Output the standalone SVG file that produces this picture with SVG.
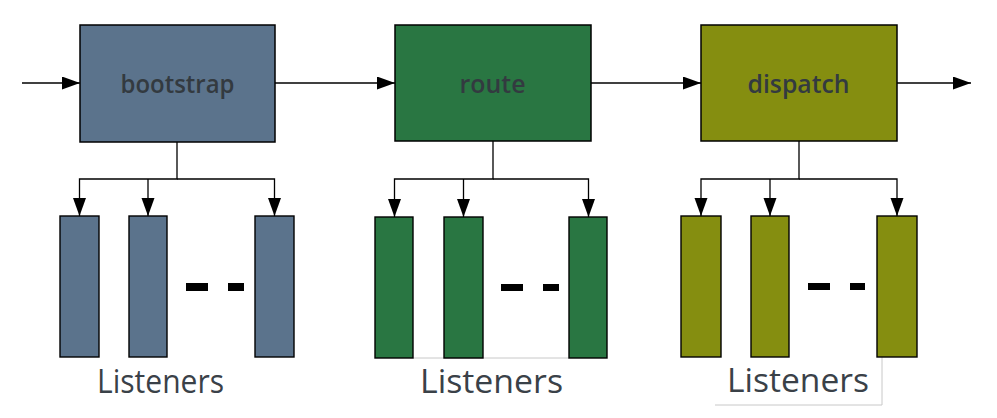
<svg xmlns="http://www.w3.org/2000/svg" width="997" height="418" viewBox="0 0 997 418">
<style>
.stage{stroke:#000;stroke-width:1.5}
.lst{stroke:#000;stroke-width:1.4}
.blue{fill:#5b738c}
.green{fill:#297642}
.olive{fill:#858e10}
.title{font-family:"Open Sans","DejaVu Sans",sans-serif;font-weight:600;font-size:26px;fill:#333a40;text-anchor:middle}
.lbl{font-family:"Open Sans","DejaVu Sans",sans-serif;font-size:32px;fill:#3a4148}
.conn{fill:none;stroke:#000;stroke-width:1.3}
.dash{fill:#000}
.frame{fill:none;stroke:#c8c8c8;stroke-width:1}
</style>
<defs>
<marker id="ah" markerUnits="userSpaceOnUse" markerWidth="18" markerHeight="14" refX="18" refY="6.5" orient="auto">
<path d="M0,0 L18,6.5 L0,13 z" fill="#000"/>
</marker>
</defs>
<rect width="997" height="418" fill="#fff"/>
<g id="artifacts">
<line class="frame" x1="413" y1="358" x2="569" y2="358"/>
<line class="frame" x1="882" y1="357" x2="882" y2="405"/>
<line class="frame" x1="715" y1="405" x2="882" y2="405"/>
</g>
<g id="connectors">
<line class="conn" x1="22" y1="83" x2="80" y2="83" marker-end="url(#ah)"/>
<line class="conn" x1="275" y1="83" x2="395" y2="83" marker-end="url(#ah)"/>
<line class="conn" x1="591" y1="83" x2="701" y2="83" marker-end="url(#ah)"/>
<line class="conn" x1="897" y1="83" x2="971" y2="83" marker-end="url(#ah)"/>
<path class="conn" d="M177,142 V179 H79.5 V216"/>
<path class="conn" d="M177,179 H274.5 V216"/>
<path class="conn" d="M148,179 V216"/>
<path class="conn" d="M493,141 V179 H394.5 V217"/>
<path class="conn" d="M493,179 H588.5 V217"/>
<path class="conn" d="M463.5,179 V217"/>
<path class="conn" d="M799,141 V179 H701 V216"/>
<path class="conn" d="M799,179 H897 V216"/>
<path class="conn" d="M770,179 V216"/>
<g fill="#000">
<path d="M73,198 L86,198 L79.5,216 z"/>
<path d="M141.5,198 L154.5,198 L148,216 z"/>
<path d="M268,198 L281,198 L274.5,216 z"/>
<path d="M388,199 L401,199 L394.5,217 z"/>
<path d="M457,199 L470,199 L463.5,217 z"/>
<path d="M582,199 L595,199 L588.5,217 z"/>
<path d="M694.5,198 L707.5,198 L701,216 z"/>
<path d="M763.5,198 L776.5,198 L770,216 z"/>
<path d="M890.5,198 L903.5,198 L897,216 z"/>
</g>
</g>
<g id="bootstrap">
<rect class="stage blue" x="80" y="25" width="195" height="117"/>
<text class="title" x="177.5" y="93" textLength="114" lengthAdjust="spacingAndGlyphs">bootstrap</text>
</g>
<g id="route">
<rect class="stage green" x="395" y="25" width="196" height="116"/>
<text class="title" x="492.5" y="93" textLength="66" lengthAdjust="spacingAndGlyphs">route</text>
</g>
<g id="dispatch">
<rect class="stage olive" x="701" y="25" width="196" height="116"/>
<text class="title" x="798.5" y="93" textLength="102" lengthAdjust="spacingAndGlyphs">dispatch</text>
</g>
<g id="bootstrap-listeners">
<rect class="lst blue" x="60" y="216" width="39" height="141"/>
<rect class="lst blue" x="129" y="216" width="38" height="141"/>
<rect class="lst blue" x="255" y="216" width="39" height="141"/>
<rect class="dash" x="186" y="283" width="22" height="8"/>
<rect class="dash" x="228" y="283" width="16" height="8"/>
<text class="lbl" x="97" y="393" textLength="127" lengthAdjust="spacingAndGlyphs">Listeners</text>
</g>
<g id="route-listeners">
<rect class="lst green" x="375" y="217" width="38" height="141"/>
<rect class="lst green" x="444" y="217" width="39" height="141"/>
<rect class="lst green" x="569" y="217" width="38" height="141"/>
<rect class="dash" x="501" y="284" width="22" height="7"/>
<rect class="dash" x="543" y="284" width="16" height="7"/>
<text class="lbl" x="420" y="393" textLength="143" lengthAdjust="spacingAndGlyphs">Listeners</text>
</g>
<g id="dispatch-listeners">
<rect class="lst olive" x="681" y="216" width="40" height="141"/>
<rect class="lst olive" x="751" y="216" width="38" height="141"/>
<rect class="lst olive" x="877" y="216" width="40" height="141"/>
<rect class="dash" x="808" y="283" width="22" height="7"/>
<rect class="dash" x="850" y="283" width="15" height="7"/>
<text class="lbl" x="727" y="392" textLength="142" lengthAdjust="spacingAndGlyphs">Listeners</text>
</g>
</svg>
